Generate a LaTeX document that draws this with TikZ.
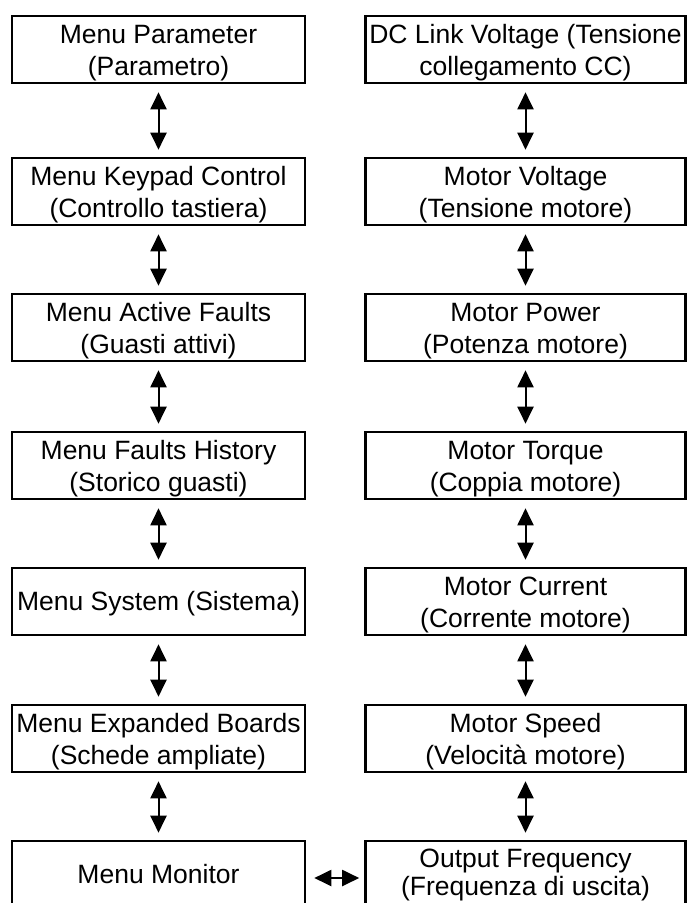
\documentclass[tikz,border=0pt]{standalone}
\usepackage{fontspec}
\setmainfont{Liberation Sans}
\usetikzlibrary{arrows.meta}
\begin{document}
\begin{tikzpicture}[x=1pt,y=-1pt,
  menubox/.style={draw=black, line width=2.6pt, inner sep=0pt, minimum height=67pt},
  lbox/.style={menubox, minimum width=293pt},
  rbox/.style={menubox, minimum width=320pt},
  lbl/.style={inner sep=0pt, align=center, anchor=base,
    font=\fontsize{26.5}{32}\selectfont},
  two/.style={lbl, yshift=-61pt},
  one/.style={lbl, yshift=-44pt},
  link/.style={line width=2pt, {Triangle[length=17pt,width=16pt]}-{Triangle[length=17pt,width=16pt]}}
]
\fill[white] (0,0) rectangle (687,903);
\useasboundingbox (0,0) rectangle (687,903);
\clip (0,0) rectangle (687,903);

% left column boxes
\node[lbox] (l1) at (158.5,49.5) {};
\node[lbox] (l2) at (158.5,191.5) {};
\node[lbox] (l3) at (158.5,327.5) {};
\node[lbox] (l4) at (158.5,465.5) {};
\node[lbox] (l5) at (158.5,601.5) {};
\node[lbox] (l6) at (158.5,738.5) {};
\node[lbox] (l7) at (158.5,874.5) {};

% right column boxes
\node[rbox] (r1) at (525.5,49.5) {};
\node[rbox] (r2) at (525.5,191.5) {};
\node[rbox] (r3) at (525.5,327.5) {};
\node[rbox] (r4) at (525.5,465.5) {};
\node[rbox] (r5) at (525.5,601.5) {};
\node[rbox] (r6) at (525.5,738.5) {};
\node[rbox] (r7) at (525.5,874.5) {};

% labels (last baseline 61pt below the box top; single lines 44pt)
\node[two] (l1t) at (l1.north) {Menu Parameter\\(Parametro)};
\node[two] (l2t) at (l2.north) {Menu Keypad Control\\(Controllo tastiera)};
\node[two] (l3t) at (l3.north) {Menu Active Faults\\(Guasti attivi)};
\node[two] (l4t) at (l4.north) {Menu Faults History\\(Storico guasti)};
\node[one] (l5t) at (l5.north) {Menu System (Sistema)};
\node[two] (l6t) at (l6.north) {Menu Expanded Boards\\(Schede ampliate)};
\node[one] (l7t) at (l7.north) {Menu Monitor};

\node[two] (r1t) at (r1.north) {DC Link Voltage (Tensione\\collegamento CC)};
\node[two] (r2t) at (r2.north) {Motor Voltage\\(Tensione motore)};
\node[two] (r3t) at (r3.north) {Motor Power\\(Potenza motore)};
\node[two] (r4t) at (r4.north) {Motor Torque\\(Coppia motore)};
\node[two] (r5t) at (r5.north) {Motor Current\\(Corrente motore)};
\node[two] (r6t) at (r6.north) {Motor Speed\\(Velocità motore)};
\node[lbl, yshift=-56pt, font=\fontsize{26.5}{28.5}\selectfont] (r7t) at (r7.north) {Output Frequency\\(Frequenza di uscita)};

% vertical links
\foreach \a/\b in {l1/l2,l2/l3,l3/l4,l4/l5,l5/l6,l6/l7,r1/r2,r2/r3,r3/r4,r4/r5,r5/r6,r6/r7}{
  \draw[link, shorten <=8pt, shorten >=7pt] (\a.south) -- (\b.north);
}
% horizontal link
\draw[link, shorten <=8pt, shorten >=5pt] (l7.east |- 0,878) -- (r7.west |- 0,878);
\end{tikzpicture}
\end{document}
